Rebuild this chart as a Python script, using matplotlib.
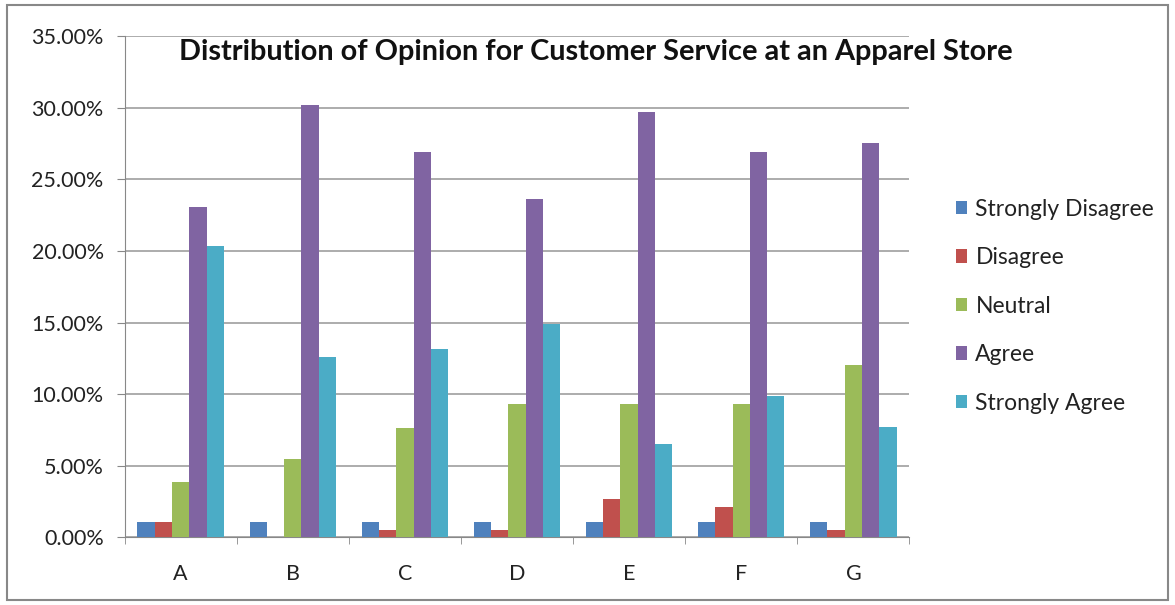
import numpy as np
import matplotlib.pyplot as plt
from matplotlib.patches import Rectangle
from matplotlib.ticker import FuncFormatter

plt.rcParams['font.family'] = ['Lato', 'DejaVu Sans']

categories = ['A', 'B', 'C', 'D', 'E', 'F', 'G']
series = ['Strongly Disagree', 'Disagree', 'Neutral', 'Agree', 'Strongly Agree']
strongly_disagree = [1.05, 1.05, 1.05, 1.05, 1.05, 1.05, 1.05]
disagree = [1.05, 0.0, 0.51, 0.51, 2.67, 2.14, 0.51]
neutral = [3.84, 5.47, 7.63, 9.30, 9.30, 9.30, 12.05]
agree = [23.07, 30.23, 26.93, 23.65, 29.70, 26.93, 27.56]
strongly_agree = [20.35, 12.60, 13.14, 14.88, 6.50, 9.88, 7.67]
colors = ['#4F81BD', '#C0504D', '#9BBB59', '#8064A2', '#4BACC6']

values = [strongly_disagree, disagree, neutral, agree, strongly_agree]

fig = plt.figure(figsize=(11.75, 6.05), dpi=100)
ax = fig.add_axes([0.106, 0.112, 0.668, 0.828])

x = np.arange(len(categories))
width = 0.154
for i, (name, vals) in enumerate(zip(series, values)):
    ax.bar(x + (i - 2) * width, vals, width, color=colors[i], label=name, zorder=3)

ax.set_ylim(0, 35)
ax.set_xlim(-0.5, len(categories) - 0.5)
ax.set_yticks(np.arange(0, 36, 5))
ax.yaxis.set_major_formatter(FuncFormatter(lambda v, p: f'{v:.2f}%'))
ax.set_xticks(x)
ax.set_xticklabels(categories)
ax.set_xticks(np.arange(-0.5, len(categories), 1), minor=True)
ax.tick_params(axis='x', which='major', length=0, pad=19, labelsize=15.5, labelcolor='#222222')
ax.tick_params(axis='x', which='minor', length=5, color='#888888')
ax.tick_params(axis='y', length=6, color='#888888', labelsize=15.5, labelcolor='#222222', pad=9)
ax.grid(axis='y', color='#A6A6A6', linewidth=1.3, zorder=0)
for s in ['top', 'right']:
    ax.spines[s].set_visible(False)
for s in ['left', 'bottom']:
    ax.spines[s].set_color('#888888')

ax.text(0.601, 0.968, 'Distribution of Opinion for Customer Service at an Apparel Store',
        transform=ax.transAxes, ha='center', va='center', fontsize=20.8, fontweight='bold',
        color='#111111')

handles, labels = ax.get_legend_handles_labels()
fig.legend(handles, labels, loc='center left', bbox_to_anchor=(0.796, 0.494), frameon=False,
           fontsize=16.5, handlelength=0.5, handleheight=0.5, handletextpad=0.35,
           labelspacing=1.2, labelcolor='#222222')

fig.patches.append(Rectangle((0.006, 0.008), 0.988, 0.984, transform=fig.transFigure,
                             fill=False, edgecolor='#888888', linewidth=1.5))

fig.savefig('out.png', dpi=100)
